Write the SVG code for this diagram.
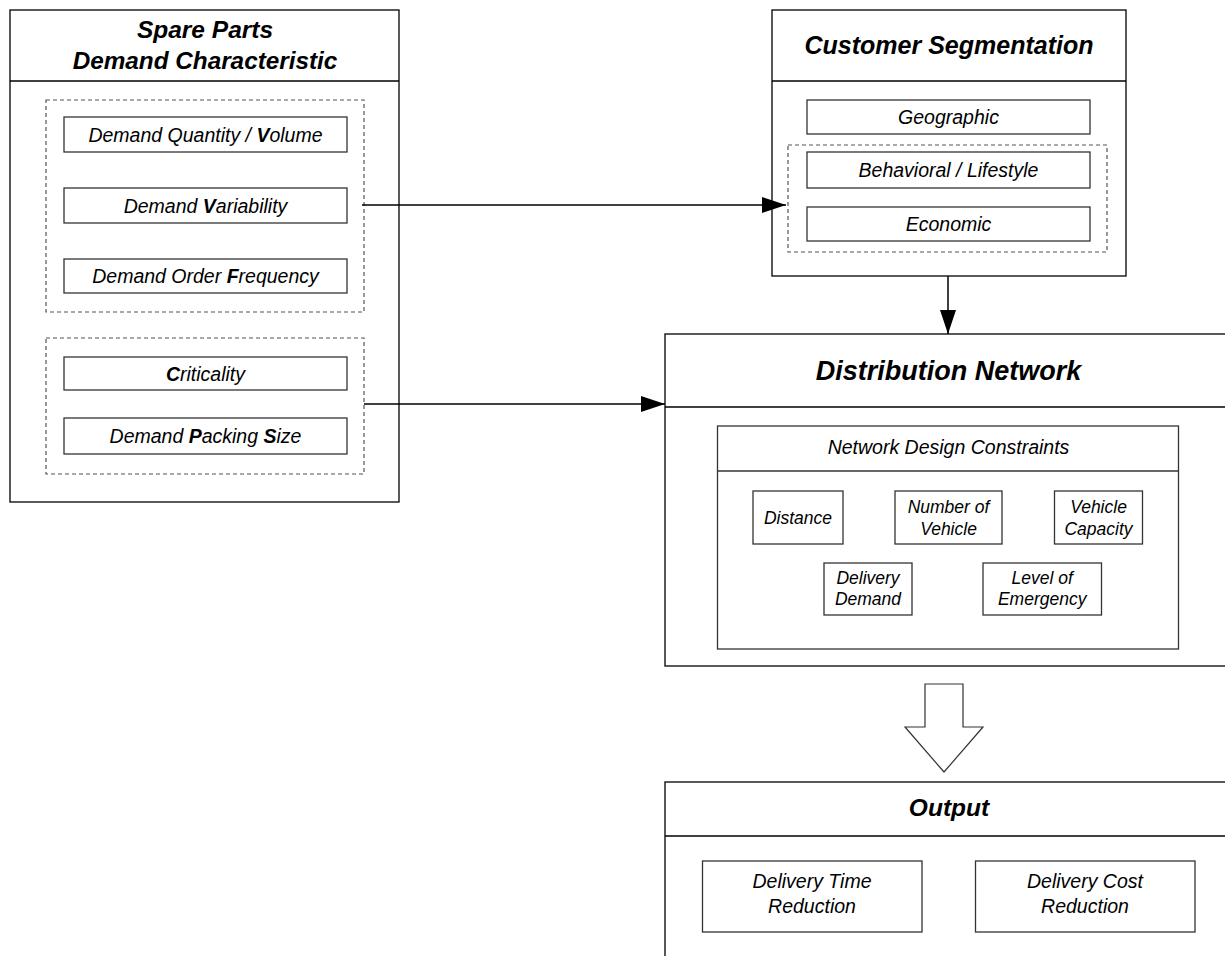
<svg xmlns="http://www.w3.org/2000/svg" width="1225" height="956" viewBox="0 0 1225 956">
<style>
.box{fill:#fff;stroke:#000;stroke-width:1.3}
.in{fill:#fff;stroke:#333;stroke-width:1.3}
.dash{fill:none;stroke:#555;stroke-width:1.2;stroke-dasharray:4,3}
.hdr{stroke:#000;stroke-width:1.3}
.t{font-family:"Liberation Sans",Arial,sans-serif;font-style:italic;font-size:19.5px;text-anchor:middle;fill:#000}
.s{font-family:"Liberation Sans",Arial,sans-serif;font-style:italic;font-size:17.5px;text-anchor:middle;fill:#000}
.h{font-family:"Liberation Sans",Arial,sans-serif;font-style:italic;font-weight:bold;font-size:25px;text-anchor:middle;fill:#000}
.b{font-weight:bold}
.conn{stroke:#000;stroke-width:1.5;fill:none}
</style>
<defs>
<marker id="ah" markerWidth="24" markerHeight="16" refX="24" refY="8" orient="auto" markerUnits="userSpaceOnUse">
<path d="M0,0 L24,8 L0,16 Z" fill="#000"/>
</marker>
</defs>
<rect width="1225" height="956" fill="#fff"/>

<g id="spare-parts">
<rect class="box" x="10" y="10" width="389" height="492"/>
<line class="hdr" x1="10" y1="81" x2="399" y2="81"/>
<text class="h" x="205" y="38" style="font-size:24.5px">Spare Parts</text>
<text class="h" x="205" y="69" style="font-size:24.3px">Demand Characteristic</text>
<rect class="dash" x="46" y="100" width="318" height="212"/>
<rect class="in" x="64" y="117" width="283" height="35"/>
<text class="t" x="205.5" y="141.5">Demand Quantity / <tspan class="b">V</tspan>olume</text>
<rect class="in" x="64" y="188" width="283" height="35"/>
<text class="t" x="205.5" y="212.5">Demand <tspan class="b">V</tspan>ariability</text>
<rect class="in" x="64" y="259" width="283" height="34"/>
<text class="t" x="205.5" y="283">Demand Order <tspan class="b">F</tspan>requency</text>
<rect class="dash" x="46" y="338" width="318" height="136"/>
<rect class="in" x="64" y="357" width="283" height="33"/>
<text class="t" x="205.5" y="380.5"><tspan class="b">C</tspan>riticality</text>
<rect class="in" x="64" y="418" width="283" height="36"/>
<text class="t" x="205.5" y="443">Demand <tspan class="b">P</tspan>acking <tspan class="b">S</tspan>ize</text>
</g>

<g id="customer-segmentation">
<rect class="box" x="772" y="10" width="354" height="266"/>
<line class="hdr" x1="772" y1="81" x2="1126" y2="81"/>
<text class="h" x="949" y="54">Customer Segmentation</text>
<rect class="in" x="807" y="100" width="283" height="34"/>
<text class="t" x="948.5" y="123.5">Geographic</text>
<rect class="dash" x="788" y="145" width="319" height="107"/>
<rect class="in" x="807" y="152" width="283" height="36"/>
<text class="t" x="948.5" y="177">Behavioral / Lifestyle</text>
<rect class="in" x="807" y="207" width="283" height="34"/>
<text class="t" x="948.5" y="230.5">Economic</text>
</g>

<g id="distribution-network">
<rect class="box" x="665" y="334" width="580" height="332"/>
<line class="hdr" x1="665" y1="407" x2="1225" y2="407"/>
<text class="h" x="948.5" y="380" style="font-size:27px">Distribution Network</text>
<rect class="in" x="717.5" y="426" width="461" height="223"/>
<line class="hdr" x1="717.5" y1="471" x2="1178.5" y2="471" style="stroke:#333"/>
<text class="t" x="948.5" y="454">Network Design Constraints</text>
<rect class="in" x="753" y="491" width="90" height="53"/>
<text class="s" x="798" y="524">Distance</text>
<rect class="in" x="895" y="491" width="107" height="53"/>
<text class="s" x="948.5" y="513">Number of</text>
<text class="s" x="948.5" y="535">Vehicle</text>
<rect class="in" x="1054.5" y="491" width="88" height="53"/>
<text class="s" x="1098.5" y="513">Vehicle</text>
<text class="s" x="1098.5" y="535">Capacity</text>
<rect class="in" x="824" y="563" width="88" height="52"/>
<text class="s" x="868" y="584">Delivery</text>
<text class="s" x="868" y="605">Demand</text>
<rect class="in" x="983" y="563" width="118.5" height="52"/>
<text class="s" x="1042.2" y="584">Level of</text>
<text class="s" x="1042.2" y="605">Emergency</text>
</g>

<g id="output">
<rect class="box" x="665" y="782" width="580" height="200"/>
<line class="hdr" x1="665" y1="836" x2="1225" y2="836"/>
<text class="h" x="949" y="816" style="font-size:24.5px">Output</text>
<rect class="in" x="702.5" y="861" width="219.5" height="71"/>
<text class="t" x="812" y="888">Delivery Time</text>
<text class="t" x="812" y="913">Reduction</text>
<rect class="in" x="975.5" y="861" width="219.5" height="71"/>
<text class="t" x="1085" y="888">Delivery Cost</text>
<text class="t" x="1085" y="913">Reduction</text>
</g>

<g id="connectors">
<line class="conn" x1="362" y1="205" x2="786" y2="205" marker-end="url(#ah)"/>
<line class="conn" x1="364" y1="404" x2="665" y2="404" marker-end="url(#ah)"/>
<line class="conn" x1="948" y1="276" x2="948" y2="334" marker-end="url(#ah)"/>
<path d="M925,684 L963,684 L963,727 L983,727 L944,772 L905,727 L925,727 Z" fill="#fff" stroke="#333" stroke-width="1.2"/>
</g>
</svg>
